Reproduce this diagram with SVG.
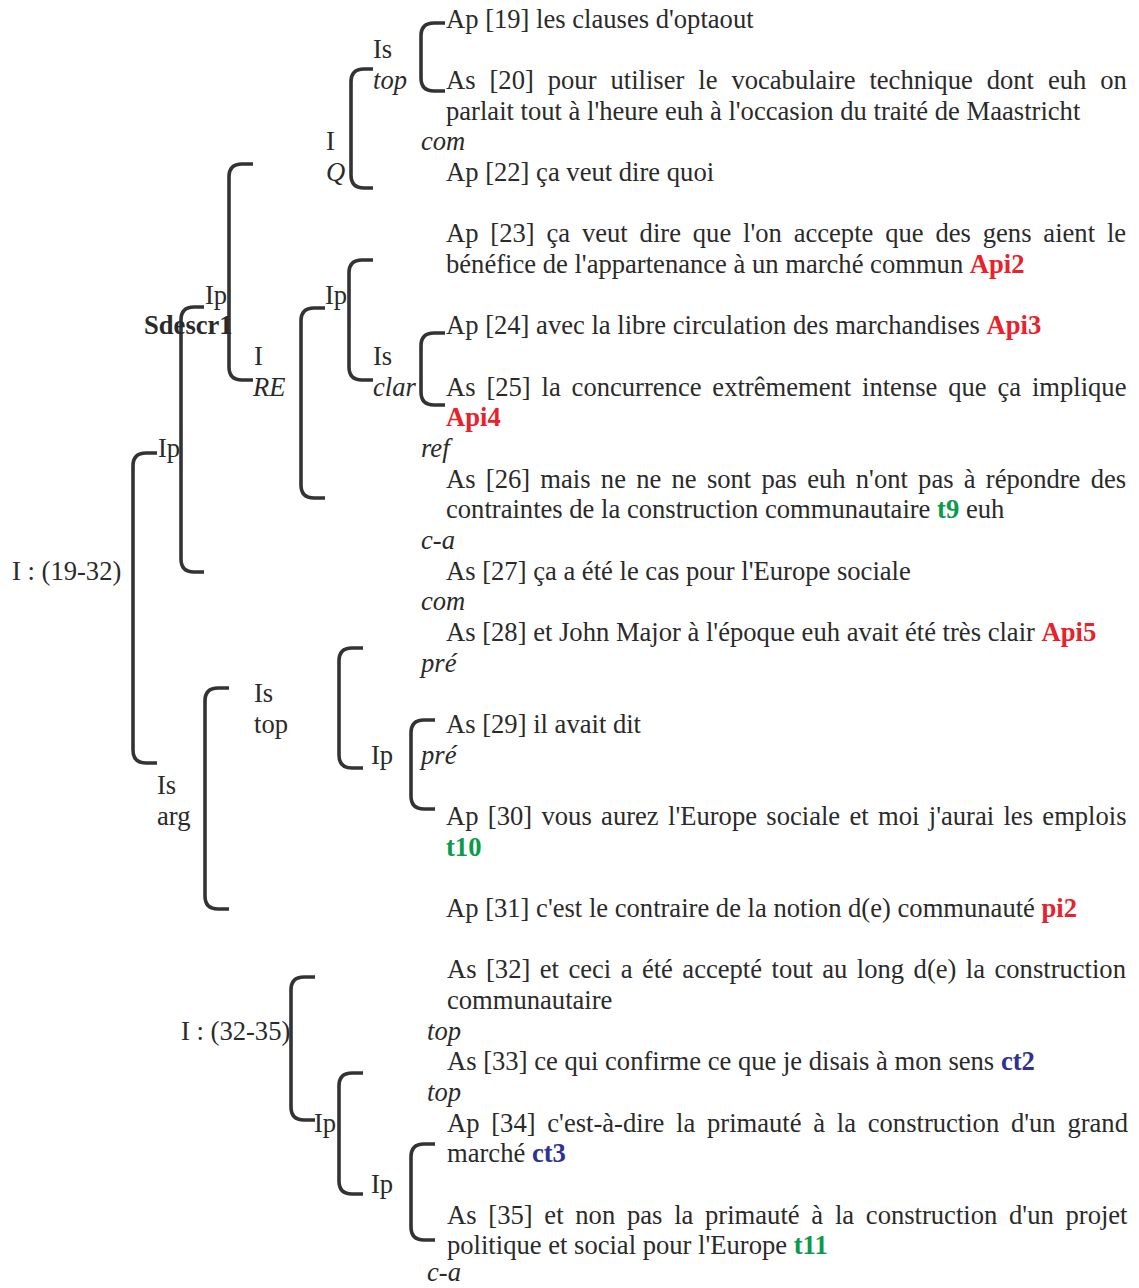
<svg xmlns="http://www.w3.org/2000/svg" width="1139" height="1288" viewBox="0 0 1139 1288">
<style>
text{font-family:"Liberation Serif","Times New Roman",serif;font-size:26.6px;fill:#2a2a2a}
.i{font-style:italic}
.b{font-weight:bold}
.r{fill:#e8212b;font-weight:bold}
.g{fill:#0a9a4a;font-weight:bold}
.u{fill:#2e3192;font-weight:bold}
.br{fill:none;stroke:#333336;stroke-width:3.6}
</style>
<rect width="1139" height="1288" fill="#ffffff"/>
<g id="connectors" class="br">
<path d="M445 23 L434 23 Q421 23 421 36 L421 78 Q421 91 434 91 L445 91"/>
<path d="M373 69 L364 69 Q351 69 351 82 L351 175 Q351 188 364 188 L373 188"/>
<path d="M253 164 L242 164 Q229 164 229 177 L229 367 Q229 380 242 380 L253 380"/>
<path d="M373 260 L362 260 Q349 260 349 273 L349 367 Q349 380 362 380 L373 380"/>
<path d="M445 333 L434 333 Q421 333 421 346 L421 392 Q421 405 434 405 L445 405"/>
<path d="M325 308 L314 308 Q301 308 301 321 L301 485 Q301 498 314 498 L325 498"/>
<path d="M204 307 L194 307 Q181 307 181 320 L181 559 Q181 572 194 572 L204 572"/>
<path d="M157 453 L146 453 Q133 453 133 466 L133 750 Q133 763 146 763 L157 763"/>
<path d="M229 688 L218 688 Q205 688 205 701 L205 896 Q205 909 218 909 L229 909"/>
<path d="M363 648 L352 648 Q339 648 339 661 L339 755 Q339 768 352 768 L363 768"/>
<path d="M435 720 L424 720 Q411 720 411 733 L411 796 Q411 809 424 809 L435 809"/>
<path d="M315 977 L304 977 Q291 977 291 990 L291 1107 Q291 1120 304 1120 L315 1120"/>
<path d="M363 1073 L352 1073 Q339 1073 339 1086 L339 1181 Q339 1194 352 1194 L363 1194"/>
<path d="M435 1144 L424 1144 Q411 1144 411 1157 L411 1227 Q411 1240 424 1240 L435 1240"/>
</g>
<g transform="translate(0,1)">
<g id="labels">
<g id="n-is-top1"><text x="373" y="57.2">Is</text><text x="373" y="87.8" class="i">top</text></g>
<g id="n-i-q"><text x="326" y="149.2">I</text><text x="326" y="179.8" class="i">Q</text></g>
<g id="n-ip-a"><text x="205" y="302.5">Ip</text></g>
<g id="n-ip-b"><text x="325" y="302.5">Ip</text></g>
<g id="n-sdescr1"><text x="144" y="333.2" class="b">Sdescr1</text></g>
<g id="n-i-re"><text x="254" y="363.9">I</text><text x="253" y="394.5" class="i">RE</text></g>
<g id="n-is-clar"><text x="373" y="363.9">Is</text><text x="373" y="394.5" class="i">clar</text></g>
<g id="n-ip-c"><text x="158" y="455.9">Ip</text></g>
<g id="n-i-1932"><text x="12" y="578.6">I : (19-32)</text></g>
<g id="n-is-top2"><text x="254" y="701.2">Is</text><text x="254" y="731.9">top</text></g>
<g id="n-ip-d"><text x="371" y="762.6">Ip</text></g>
<g id="n-is-arg"><text x="157" y="793.2">Is</text><text x="157" y="823.9">arg</text></g>
<g id="n-i-3235"><text x="181" y="1038.6">I : (32-35)</text></g>
<g id="n-ip-e"><text x="314" y="1130.6">Ip</text></g>
<g id="n-ip-f"><text x="371" y="1192">Ip</text></g>
</g>
<g id="relations">
<g id="rel-com1"><text x="421" y="149.2" class="i">com</text></g>
<g id="rel-ref"><text x="421" y="455.9" class="i">ref</text></g>
<g id="rel-ca1"><text x="421" y="547.9" class="i">c-a</text></g>
<g id="rel-com2"><text x="421" y="609.2" class="i">com</text></g>
<g id="rel-pre1"><text x="421" y="670.6" class="i">pré</text></g>
<g id="rel-pre2"><text x="421" y="762.6" class="i">pré</text></g>
<g id="rel-top1"><text x="427" y="1038.6" class="i">top</text></g>
<g id="rel-top2"><text x="427" y="1099.9" class="i">top</text></g>
<g id="rel-ca2"><text x="427" y="1280" class="i">c-a</text></g>
</g>
<g id="acts">
<g id="a19"><text x="446" y="26.5">Ap [19] les clauses d'optaout</text></g>
<g id="a20"><text x="446" y="87.8" style="word-spacing:7.3px">As [20] pour utiliser le vocabulaire technique dont euh on</text><text x="446" y="118.5">parlait tout à l'heure euh à l'occasion du traité de Maastricht</text></g>
<g id="a22"><text x="446" y="179.8">Ap [22] ça veut dire quoi</text></g>
<g id="a23"><text x="446" y="241.2" style="word-spacing:5.2px">Ap [23] ça veut dire que l'on accepte que des gens aient le</text><text x="446" y="271.9">bénéfice de l'appartenance à un marché commun <tspan class="r">Api2</tspan></text></g>
<g id="a24"><text x="446" y="333.2">Ap [24] avec la libre circulation des marchandises <tspan class="r">Api3</tspan></text></g>
<g id="a25"><text x="446" y="394.5" style="word-spacing:4.2px">As [25] la concurrence extrêmement intense que ça implique</text><text x="446" y="425.2" class="r">Api4</text></g>
<g id="a26"><text x="446" y="486.5" style="word-spacing:3.6px">As [26] mais ne ne ne sont pas euh n'ont pas à répondre des</text><text x="446" y="517.2">contraintes de la construction communautaire <tspan class="g">t9</tspan> euh</text></g>
<g id="a27"><text x="446" y="578.6">As [27] ça a été le cas pour l'Europe sociale</text></g>
<g id="a28"><text x="446" y="639.9">As [28] et John Major à l'époque euh avait été très clair <tspan class="r">Api5</tspan></text></g>
<g id="a29"><text x="446" y="731.9">As [29] il avait dit</text></g>
<g id="a30"><text x="446" y="823.9" style="word-spacing:2.7px">Ap [30] vous aurez l'Europe sociale et moi j'aurai les emplois</text><text x="446" y="854.6" class="g">t10</text></g>
<g id="a31"><text x="446" y="915.9">Ap [31] c'est le contraire de la notion d(e) communauté <tspan class="r">pi2</tspan></text></g>
<g id="a32"><text x="447" y="977.3" style="word-spacing:2.8px">As [32] et ceci a été accepté tout au long d(e) la construction</text><text x="447" y="1007.9">communautaire</text></g>
<g id="a33"><text x="447" y="1069.3">As [33] ce qui confirme ce que je disais à mon sens <tspan class="u">ct2</tspan></text></g>
<g id="a34"><text x="447" y="1130.6" style="word-spacing:5.1px">Ap [34] c'est-à-dire la primauté à la construction d'un grand</text><text x="447" y="1161.3">marché <tspan class="u">ct3</tspan></text></g>
<g id="a35"><text x="447" y="1222.6" style="word-spacing:5.1px">As [35] et non pas la primauté à la construction d'un projet</text><text x="447" y="1253.3">politique et social pour l'Europe <tspan class="g">t11</tspan></text></g>
</g>
</g>
</svg>
